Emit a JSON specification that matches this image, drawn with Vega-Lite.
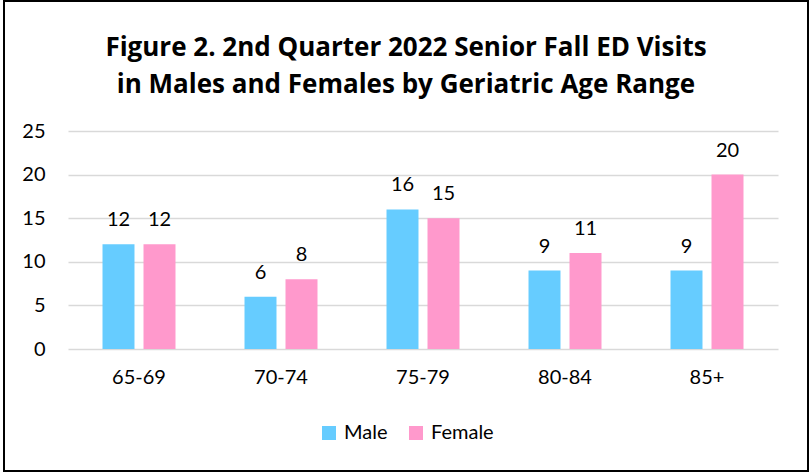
{
  "$schema": "https://vega.github.io/schema/vega-lite/v6.json",
  "width": 804,
  "height": 470,
  "autosize": {"type": "none"},
  "padding": {"left": 4, "top": 1, "right": 4, "bottom": 2},
  "background": "white",
  "title": {
    "text": ["Figure 2. 2nd Quarter 2022 Senior Fall ED Visits", "in Males and Females by Geriatric Age Range"],
    "anchor": "middle",
    "frame": "group",
    "font": "Open Sans",
    "fontSize": 26,
    "fontWeight": "bold",
    "color": "#000000",
    "lineHeight": 37.5,
    "offset": -97
  },
  "data": {
    "values": [
      {"age": "65-69", "sex": "Male", "visits": 12},
      {"age": "65-69", "sex": "Female", "visits": 12},
      {"age": "70-74", "sex": "Male", "visits": 6},
      {"age": "70-74", "sex": "Female", "visits": 8},
      {"age": "75-79", "sex": "Male", "visits": 16},
      {"age": "75-79", "sex": "Female", "visits": 15},
      {"age": "80-84", "sex": "Male", "visits": 9},
      {"age": "80-84", "sex": "Female", "visits": 11},
      {"age": "85+", "sex": "Male", "visits": 9},
      {"age": "85+", "sex": "Female", "visits": 20}
    ]
  },
  "encoding": {
    "x": {
      "field": "age",
      "type": "nominal",
      "sort": null,
      "scale": {"range": [64, 774], "paddingInner": 0.486, "paddingOuter": 0.243},
      "axis": {
        "title": null,
        "labelAngle": 0,
        "offset": -122,
        "domain": false,
        "ticks": false,
        "labelPadding": 18,
        "labelFont": "Lato",
        "labelFontSize": 20,
        "labelColor": "#000000",
        "grid": false
      }
    },
    "xOffset": {
      "field": "sex",
      "type": "nominal",
      "scale": {"domain": ["Male", "Female"], "paddingInner": 0.22}
    },
    "y": {
      "field": "visits",
      "type": "quantitative",
      "scale": {"domain": [0, 25], "range": [348, 130], "nice": false},
      "axis": {
        "title": null,
        "values": [0, 5, 10, 15, 20, 25],
        "offset": -64,
        "domain": false,
        "ticks": false,
        "labelPadding": 23,
        "labelFont": "Lato",
        "labelFontSize": 20,
        "labelColor": "#000000",
        "gridColor": "#d9d9d9",
        "gridWidth": 1.5
      }
    }
  },
  "layer": [
    {
      "mark": {"type": "bar"},
      "encoding": {
        "color": {
          "field": "sex",
          "type": "nominal",
          "scale": {"domain": ["Male", "Female"], "range": ["#66CCFF", "#FF99CC"]},
          "legend": {
            "orient": "none",
            "legendX": 315,
            "legendY": 422,
            "direction": "horizontal",
            "title": null,
            "symbolType": "square",
            "symbolSize": 196,
            "symbolStrokeWidth": 0,
            "labelFont": "Lato",
            "labelFontSize": 20,
            "labelColor": "#000000",
            "labelOffset": 5,
            "columnPadding": 18,
            "padding": 0
          }
        }
      }
    },
    {
      "mark": {"type": "text", "dy": -18, "baseline": "alphabetic", "font": "Lato", "fontSize": 20, "color": "#000000"},
      "encoding": {
        "text": {"field": "visits", "type": "quantitative"}
      }
    }
  ],
  "config": {
    "view": {"stroke": "#000000", "strokeWidth": 2}
  }
}
